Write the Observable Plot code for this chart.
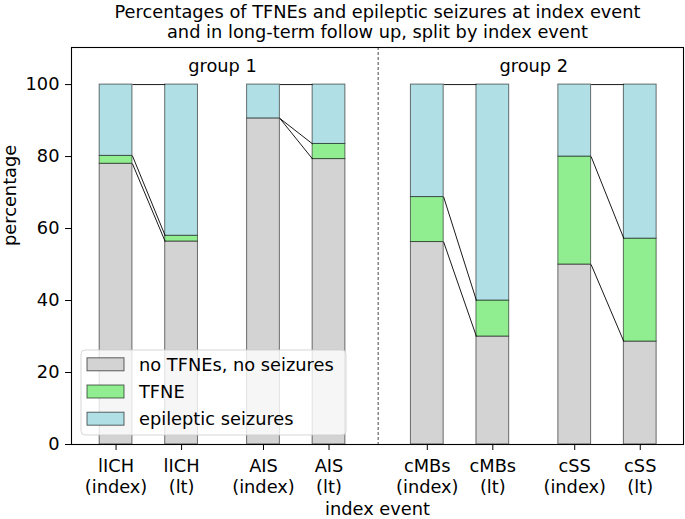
<!DOCTYPE html>
<html><head><meta charset="utf-8">
<script src="https://cdn.jsdelivr.net/npm/d3@7"></script>
<script src="https://cdn.jsdelivr.net/npm/@observablehq/plot@0.6"></script>
<style>body{margin:0;background:#fff} #chart{width:685px;height:519px}</style>
</head><body><div id="chart"></div>
<script>
// ---- data ----
const tickLabels = ["lICH\n(index)", "lICH\n(lt)", "AIS\n(index)", "AIS\n(lt)", "cMBs\n(index)", "cMBs\n(lt)", "cSS\n(index)", "cSS\n(lt)"];
const positions = [0, 1, 2.25, 3.25, 4.75, 5.75, 7, 8];
const noEvents = [78.0, 56.4, 90.6, 79.3, 56.25, 30.0, 50.0, 28.6];
const tfne = [2.2, 1.6, 0.0, 4.2, 12.5, 10.0, 30.0, 28.6];
const seizures = [19.8, 42.0, 9.4, 16.5, 31.25, 60.0, 20.0, 42.8];
const seriesNames = ["no TFNEs, no seizures", "TFNE", "epileptic seizures"];
const seriesColors = ["#d3d3d3", "#90ee90", "#b0e0e6"];
const groupNames = ["group 1", "group 2"];
const groupMembers = [[0, 1, 2, 3], [4, 5, 6, 7]];
const pairs = [[0, 1], [2, 3], [4, 5], [6, 7]];
const dividerAt = 4;
const yTicks = [0, 20, 40, 60, 80, 100];
const titleText = "Percentages of TFNEs and epileptic seizures at index event\nand in long-term follow up, split by index event";
const yLabel = "percentage";
const xLabel = "index event";

// ---- derived tables ----
const barW = 0.5;
const series = [noEvents, tfne, seizures];
const segments = [];
const cumul = positions.map(() => [0]);
positions.forEach((p, i) => {
  let base = 0;
  series.forEach((s, k) => {
    segments.push({x1: p - barW / 2, x2: p + barW / 2, y1: base, y2: base + s[i], color: seriesColors[k]});
    base += s[i];
    cumul[i].push(base);
  });
});
const links = [];
pairs.forEach(([a, b]) => {
  for (let k = 1; k <= 3; k++) {
    links.push({x1: positions[a] + barW / 2, y1: cumul[a][k], x2: positions[b] - barW / 2, y2: cumul[b][k]});
  }
});
const groups = groupNames.map((g, j) => {
  const m = groupMembers[j];
  return {name: g, x: (positions[m[0]] + positions[m[m.length - 1]]) / 2};
});

const W = 685, H = 519, mL = 71, mR = 2, mT = 47, mB = 75;
const font = "DejaVu Sans";
const fs = 17.8;

const svg = Plot.plot({
  width: W, height: H,
  marginLeft: mL, marginRight: mR, marginTop: mT, marginBottom: mB,
  style: {fontFamily: font, fontSize: fs + "px", background: "white", color: "black"},
  x: {domain: [-0.68, 8.66], axis: null},
  y: {domain: [0, 110.3], axis: null},
  color: {type: "identity"},
  marks: [
    Plot.ruleX([dividerAt], {stroke: "#333", strokeWidth: 0.9, strokeDasharray: "3,2"}),
    Plot.rect(segments, {x1: "x1", x2: "x2", y1: "y1", y2: "y2", fill: "color", stroke: "black", strokeOpacity: 0.55, strokeWidth: 1}),
    Plot.link(links, {x1: "x1", y1: "y1", x2: "x2", y2: "y2", stroke: "black", strokeWidth: 0.9}),
    Plot.text(groups, {x: "x", text: "name", frameAnchor: "top", dy: 19, lineAnchor: "middle", fontSize: fs}),
    Plot.axisY({ticks: yTicks, tickSize: 6, tickPadding: 6, fontSize: fs, label: null, stroke: "black"}),
    Plot.axisX({ticks: positions, tickFormat: d => tickLabels[positions.indexOf(d)], tickSize: 6, tickPadding: 7, lineHeight: 1.15, fontSize: fs, label: null, stroke: "black"}),
    Plot.frame({stroke: "black", strokeWidth: 1.1}),
    Plot.text([titleText], {frameAnchor: "top", dy: -26, lineAnchor: "middle", lineHeight: 1.15, fontSize: fs}),
    Plot.text([yLabel], {frameAnchor: "left", dx: -61, rotate: -90, lineAnchor: "middle", fontSize: fs}),
    Plot.text([xLabel], {frameAnchor: "bottom", dy: 64.5, lineAnchor: "middle", fontSize: fs})
  ]
});

// ---- legend (drawn inside the plot frame, lower left) ----
const lg = d3.select(svg).append("g").attr("font-family", font).attr("font-size", fs).attr("text-anchor", "start");
const boxX = mL + 10, boxY = H - mB - 94, boxW = 265, boxH = 85;
lg.append("rect").attr("x", boxX).attr("y", boxY).attr("width", boxW).attr("height", boxH)
  .attr("rx", 4).attr("fill", "white").attr("fill-opacity", 0.8).attr("stroke", "#cccccc").attr("stroke-opacity", 0.8);
seriesNames.forEach((name, k) => {
  const cy = boxY + 14.3 + k * 27.2;
  lg.append("rect").attr("x", boxX + 6).attr("y", cy - 6.5).attr("width", 37).attr("height", 13)
    .attr("fill", seriesColors[k]).attr("stroke", "black").attr("stroke-opacity", 0.6).attr("stroke-width", 1);
  lg.append("text").attr("x", boxX + 58).attr("y", cy).attr("dy", "0.35em").attr("text-anchor", "start").attr("fill", "black").text(name);
});

document.getElementById("chart").appendChild(svg);
</script>
</body></html>
